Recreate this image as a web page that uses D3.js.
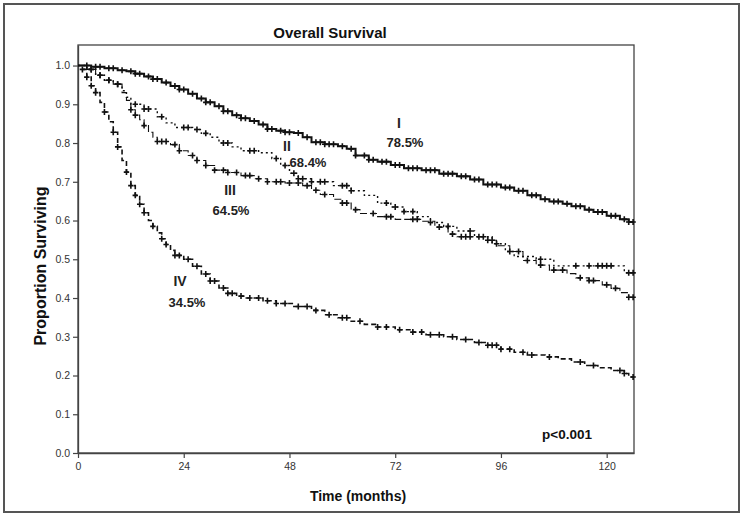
<!DOCTYPE html>
<html><head><meta charset="utf-8">
<script src="https://cdn.jsdelivr.net/npm/d3@7"></script>
<style>
body{margin:0;background:#fff;}
svg{display:block;font-family:"Liberation Sans",Arial,sans-serif;}
</style></head>
<body><svg id="c" width="754" height="530"></svg>
<script>
// ---- data (time in months, proportion surviving) ----
const stageI = [[0,1],[3,0.997],[6,0.993],[9,0.988],[11,0.985],[13,0.979],[15,0.972],[17,0.965],[19,0.956],[21,0.947],[23,0.938],[25,0.927],[27,0.915],[29,0.905],[31,0.895],[33,0.882],[35,0.872],[37,0.864],[39,0.857],[41,0.848],[43,0.836],[45,0.832],[47,0.828],[49,0.826],[51,0.815],[53,0.802],[56,0.797],[59,0.792],[61,0.785],[63,0.768],[66,0.757],[68,0.752],[71,0.743],[74,0.735],[78,0.73],[82,0.721],[86,0.714],[89,0.706],[92,0.693],[96,0.685],[99,0.677],[102,0.665],[105,0.655],[107,0.649],[110,0.643],[112,0.637],[115,0.628],[117,0.622],[120,0.612],[123,0.603],[125,0.596]];
const stageII = [[0,1],[2,0.99],[4,0.975],[6,0.962],[8,0.952],[10,0.935],[11,0.918],[12,0.9],[15,0.888],[18,0.868],[20,0.852],[22,0.84],[26,0.835],[28,0.825],[30,0.815],[32,0.8],[35,0.79],[37,0.78],[41,0.775],[44,0.76],[46,0.742],[48,0.722],[50,0.708],[53,0.7],[58,0.69],[62,0.677],[65,0.665],[68,0.645],[71,0.635],[74,0.623],[77,0.61],[80,0.595],[83,0.585],[86,0.573],[90,0.558],[94,0.54],[97,0.52],[99,0.507],[104,0.5],[108,0.483],[124,0.465]];
const stageIII = [[0,1],[2,0.99],[4,0.975],[6,0.962],[8,0.952],[10,0.93],[11,0.91],[12,0.886],[13,0.872],[14,0.86],[15,0.845],[16,0.828],[17,0.815],[18,0.804],[21,0.796],[23,0.78],[25,0.768],[27,0.755],[29,0.742],[31,0.73],[34,0.724],[37,0.716],[40,0.708],[43,0.7],[47,0.697],[51,0.69],[53,0.678],[55,0.667],[58,0.655],[60,0.645],[62,0.628],[64,0.618],[68,0.61],[72,0.603],[78,0.598],[81,0.583],[84,0.565],[86,0.558],[93,0.549],[95,0.535],[98,0.52],[101,0.497],[104,0.485],[107,0.472],[111,0.463],[113,0.452],[116,0.445],[119,0.434],[121,0.425],[123,0.414],[125,0.402]];
const stageIV = [[0,1],[1,0.99],[2,0.97],[3,0.948],[4,0.93],[5,0.905],[6,0.88],[7,0.855],[8,0.828],[9,0.79],[10,0.755],[11,0.725],[12,0.69],[13,0.665],[14,0.642],[15,0.62],[16,0.6],[17,0.585],[18,0.568],[19,0.553],[20,0.538],[21,0.523],[22,0.51],[24,0.5],[26,0.482],[28,0.462],[30,0.444],[32,0.426],[34,0.412],[36,0.405],[38,0.4],[42,0.393],[45,0.386],[49,0.378],[53,0.368],[56,0.357],[59,0.349],[62,0.34],[65,0.332],[68,0.325],[72,0.318],[76,0.312],[79,0.305],[83,0.3],[86,0.293],[90,0.285],[93,0.278],[96,0.268],[99,0.26],[102,0.253],[106,0.248],[109,0.243],[112,0.235],[115,0.226],[118,0.22],[121,0.213],[124,0.205],[125,0.196]];
const censorI = [2,4,5,7,8,10,12,13,14,16,17,18,20,22,23,24,26,28,29,30,32,33,34,36,37,38,40,42,43,44,46,47,48,50,52,54,55,56,57,58,60,62,63,65,66,67,69,70,72,73,75,76,77,79,80,81,83,84,85,87,88,90,91,93,94,95,97,98,100,101,103,104,106,108,109,111,113,114,116,118,119,121,122,124,125,126];
const censorII = [3,5,7,9,13,15,16,19,24,25,27,29,33,34,39,40,45,47,49,50,51,53,55,56,60,61,62,70,72,74,76,80,84,89,92,95,98,105,113,116,118,119,120,121,125,126];
const censorIII = [3,5,7,9,12,13,15,18,19,20,22,23,26,27,29,31,33,34,36,38,39,41,43,45,46,48,50,52,54,56,60,61,63,67,70,71,76,77,82,85,87,88,89,91,93,94,100,102,105,108,110,114,116,117,120,122,125,126];
const censorIV = [1,2,3,4,6,8,9,11,12,13,14,15,17,19,20,22,23,25,27,29,30,31,33,34,35,37,39,41,43,45,47,50,52,54,57,60,61,64,68,70,73,76,78,80,82,85,88,91,93,94,95,96,98,101,103,107,114,117,123,124,126];
const stageNames = ["I","II","III","IV"];
const stageRates = ["78.5%","68.4%","64.5%","34.5%"];
const xTicks = [0,24,48,72,96,120];
const yTicks = [0,0.1,0.2,0.3,0.4,0.5,0.6,0.7,0.8,0.9,1.0];
const tMax = 126.2;
const endTime = 126;

const svg = d3.select("#c");
// outer frame
svg.append("rect").attr("x",4).attr("y",4).attr("width",735).attr("height",508)
  .attr("fill","none").attr("stroke","#555").attr("stroke-width",2);

const x = d3.scaleLinear().domain([0,tMax]).range([78,634]);
const y = d3.scaleLinear().domain([0,1.053]).range([453,45]);

// plot box
svg.append("rect").attr("x",x(0)).attr("y",y(1.053)).attr("width",x(tMax)-x(0)).attr("height",y(0)-y(1.053))
  .attr("fill","none").attr("stroke","#444").attr("stroke-width",1.3);

const xAxis = svg.append("g").attr("transform",`translate(0,${y(0)})`)
  .call(d3.axisBottom(x).tickValues(xTicks).tickSize(5).tickSizeOuter(0).tickFormat(d3.format("d")));
const yAxis = svg.append("g").attr("transform",`translate(${x(0)},0)`)
  .call(d3.axisLeft(y).tickValues(yTicks).tickSize(5).tickSizeOuter(0).tickFormat(d3.format(".1f")));
[xAxis,yAxis].forEach(a=>{
  a.select(".domain").attr("stroke","#444").attr("stroke-width",1.3);
  a.selectAll(".tick line").attr("stroke","#444").attr("stroke-width",1.2);
  a.selectAll(".tick text").attr("fill","#333").style("font-size","10.5px").style("font-family","'Liberation Sans',Arial,sans-serif");
});
xAxis.selectAll(".tick text").attr("dy","0.9em");

// curves
const series = [
  {pts:stageI, cens:censorI, dash:null, w:2},
  {pts:stageII, cens:censorII, dash:"2,3", w:1.4},
  {pts:stageIII, cens:censorIII, dash:"7,3", w:1.1},
  {pts:stageIV, cens:censorIV, dash:"5,3", w:1.6}
];
const line = d3.line().x(d=>x(d[0])).y(d=>y(d[1])).curve(d3.curveStepAfter);
function survAt(pts,t){let s=pts[0][1];for(const p of pts){if(p[0]<=t)s=p[1];else break;}return s;}
series.forEach(s=>{
  const pts = s.pts.concat([[endTime, s.pts[s.pts.length-1][1]]]);
  svg.append("path").attr("d",line(pts)).attr("fill","none").attr("stroke","#111")
    .attr("stroke-width",s.w).attr("stroke-dasharray",s.dash);
  const g = svg.append("g");
  s.cens.forEach(t=>{
    const cx = x(t), cy = y(survAt(s.pts,t));
    g.append("path").attr("d",`M${cx-2.7},${cy}H${cx+2.7}M${cx},${cy-3}V${cy+3}`)
      .attr("stroke","#111").attr("stroke-width",1.6);
  });
});

// annotations
const labelPos = [[399,128,405,147],[287,151,308,167],[230,195,231,215],[180,286,187,307]];
stageNames.forEach((n,i)=>{
  const p = labelPos[i];
  svg.append("text").attr("x",p[0]).attr("y",p[1]).attr("text-anchor","middle")
    .style("font-size","14px").style("font-weight","bold").attr("fill","#222").text(n);
  svg.append("text").attr("x",p[2]).attr("y",p[3]).attr("text-anchor","middle")
    .style("font-size","13px").style("font-weight","bold").attr("fill","#222").text(stageRates[i]);
});
svg.append("text").attr("x",567).attr("y",439).attr("text-anchor","middle")
  .style("font-size","13.5px").style("font-weight","bold").attr("fill","#111").text("p<0.001");

// titles
svg.append("text").attr("x",330).attr("y",38).attr("text-anchor","middle")
  .style("font-size","15px").style("font-weight","bold").attr("fill","#111").text("Overall Survival");
svg.append("text").attr("x",358).attr("y",501).attr("text-anchor","middle")
  .style("font-size","14px").style("font-weight","bold").attr("fill","#111").text("Time (months)");
svg.append("text").attr("transform","translate(46,266) rotate(-90)").attr("text-anchor","middle")
  .style("font-size","16px").style("font-weight","bold").attr("fill","#111").text("Proportion Surviving");
</script></body></html>
